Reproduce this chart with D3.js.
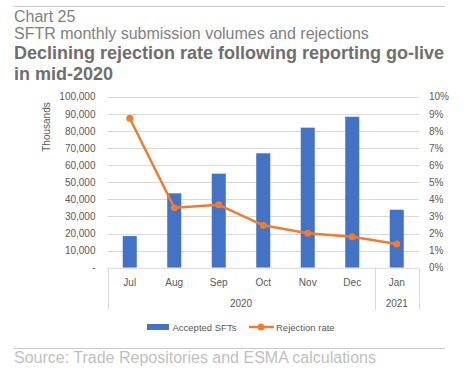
<!DOCTYPE html>
<html>
<head>
<meta charset="utf-8">
<script src="https://cdn.jsdelivr.net/npm/d3@7"></script>
<style>
  body { margin: 0; background: #fff; }
  svg { display: block; font-family: "Liberation Sans", Arial, sans-serif; }
</style>
</head>
<body>
<svg id="chart" width="470" height="377"></svg>
<script>
// data
const months = ["Jul", "Aug", "Sep", "Oct", "Nov", "Dec", "Jan"];
const years = [{ label: "2020", from: "Jul", to: "Dec" }, { label: "2021", from: "Jan", to: "Jan" }];
const accepted = [18500, 43500, 55000, 66900, 81900, 88300, 33900]; // thousands
const rejection = [8.74, 3.51, 3.68, 2.48, 2.01, 1.81, 1.39]; // %
const leftTicks = [0, 10000, 20000, 30000, 40000, 50000, 60000, 70000, 80000, 90000, 100000];
const rightTicks = [0, 1, 2, 3, 4, 5, 6, 7, 8, 9, 10];

const blue = "#4472c4", orange = "#ed7d31";
const svg = d3.select("#chart");

// header
svg.append("line").attr("x1", 14).attr("x2", 445).attr("y1", 6.5).attr("y2", 6.5)
  .attr("stroke", "#c8c8c8").attr("stroke-width", 1);
svg.append("text").attr("x", 14).attr("y", 21.5).attr("font-size", 16).attr("fill", "#7f7f7f").text("Chart 25");
svg.append("text").attr("x", 14).attr("y", 39).attr("font-size", 16).attr("fill", "#7f7f7f")
  .text("SFTR monthly submission volumes and rejections");
svg.append("text").attr("x", 14).attr("y", 59).attr("font-size", 18).attr("font-weight", "bold").attr("fill", "#6e6e6e")
  .text("Declining rejection rate following reporting go-live");
svg.append("text").attr("x", 14).attr("y", 80).attr("font-size", 18).attr("font-weight", "bold").attr("fill", "#6e6e6e")
  .text("in mid-2020");

// plot area
const pLeft = 107.5, pRight = 419, pTop = 96.7, pBottom = 267.7;

const x = d3.scaleBand().domain(months).range([pLeft, pRight]).paddingInner(0.685).paddingOuter(0.3425);
const xc = d3.scaleBand().domain(months).range([pLeft, pRight]);
const y = d3.scaleLinear().domain([0, 100000]).range([pBottom, pTop]);
const y2 = d3.scaleLinear().domain([0, 10]).range([pBottom, pTop]);

// gridlines
svg.append("g").selectAll("line").data(leftTicks.slice(1)).join("line")
  .attr("x1", pLeft).attr("x2", pRight)
  .attr("y1", d => Math.round(y(d)) + 0.5).attr("y2", d => Math.round(y(d)) + 0.5)
  .attr("stroke", "#d9d9d9").attr("stroke-width", 1);

// left axis
const fmt = d3.format(",");
const gL = svg.append("g").attr("transform", `translate(${pLeft - 12},0)`)
  .call(d3.axisLeft(y).tickValues(leftTicks).tickSize(0).tickPadding(0)
    .tickFormat(d => d === 0 ? "-" : fmt(d)));
gL.select(".domain").remove();
gL.selectAll("text").attr("font-size", 10).attr("fill", "#595959").attr("font-family", "Liberation Sans, Arial, sans-serif");
svg.append("text").attr("transform", `translate(50,127) rotate(-90)`)
  .attr("text-anchor", "middle").attr("font-size", 10).attr("fill", "#595959").text("Thousands");

// right axis
const gR = svg.append("g").attr("transform", `translate(${pRight + 10},0)`)
  .call(d3.axisRight(y2).tickValues(rightTicks).tickSize(0).tickPadding(0).tickFormat(d => d + "%"));
gR.select(".domain").remove();
gR.selectAll("text").attr("font-size", 10).attr("fill", "#595959").attr("font-family", "Liberation Sans, Arial, sans-serif");

// bars
svg.append("g").selectAll("rect").data(accepted).join("rect")
  .attr("x", (d, i) => x(months[i]))
  .attr("width", x.bandwidth())
  .attr("y", d => y(d))
  .attr("height", d => pBottom - y(d))
  .attr("fill", blue);

// category axis
const axisG = svg.append("g").attr("stroke", "#d9d9d9").attr("stroke-width", 1);
axisG.append("line").attr("x1", pLeft).attr("x2", pRight).attr("y1", pBottom + 0.5).attr("y2", pBottom + 0.5);
const dividers = [pLeft, xc("Jan"), pRight];
axisG.selectAll("line.div").data(dividers).join("line").attr("class", "div")
  .attr("x1", d => Math.round(d) + 0.5).attr("x2", d => Math.round(d) + 0.5)
  .attr("y1", pBottom).attr("y2", 310);

svg.append("g").selectAll("text").data(months).join("text")
  .attr("x", d => xc(d) + xc.bandwidth() / 2).attr("y", 286)
  .attr("text-anchor", "middle").attr("font-size", 10).attr("fill", "#595959").text(d => d);
svg.append("g").selectAll("text").data(years).join("text")
  .attr("x", d => (xc(d.from) + xc(d.to) + xc.bandwidth()) / 2).attr("y", 307)
  .attr("text-anchor", "middle").attr("font-size", 10).attr("fill", "#595959").text(d => d.label);

// rejection line
const line = d3.line().x((d, i) => xc(months[i]) + xc.bandwidth() / 2).y(d => y2(d));
svg.append("path").datum(rejection).attr("d", line)
  .attr("fill", "none").attr("stroke", orange).attr("stroke-width", 2.5).attr("stroke-linejoin", "round");
svg.append("g").selectAll("circle").data(rejection).join("circle")
  .attr("cx", (d, i) => xc(months[i]) + xc.bandwidth() / 2).attr("cy", d => y2(d))
  .attr("r", 3.5).attr("fill", orange);

// legend
const lg = svg.append("g");
lg.append("rect").attr("x", 147).attr("y", 324).attr("width", 22).attr("height", 6).attr("fill", blue);
lg.append("text").attr("x", 172.5).attr("y", 330.5).attr("font-size", 9.5).attr("fill", "#595959").text("Accepted SFTs");
lg.append("line").attr("x1", 249).attr("x2", 274).attr("y1", 327).attr("y2", 327)
  .attr("stroke", orange).attr("stroke-width", 2.5);
lg.append("circle").attr("cx", 261).attr("cy", 327).attr("r", 3.5).attr("fill", orange);
lg.append("text").attr("x", 276).attr("y", 330.5).attr("font-size", 9.5).attr("fill", "#595959").text("Rejection rate");

// footer
svg.append("line").attr("x1", 14).attr("x2", 445).attr("y1", 348.5).attr("y2", 348.5)
  .attr("stroke", "#c8c8c8").attr("stroke-width", 1);
svg.append("text").attr("x", 14).attr("y", 363).attr("font-size", 16).attr("fill", "#bfbfbf")
  .text("Source: Trade Repositories and ESMA calculations");
</script>
</body>
</html>
